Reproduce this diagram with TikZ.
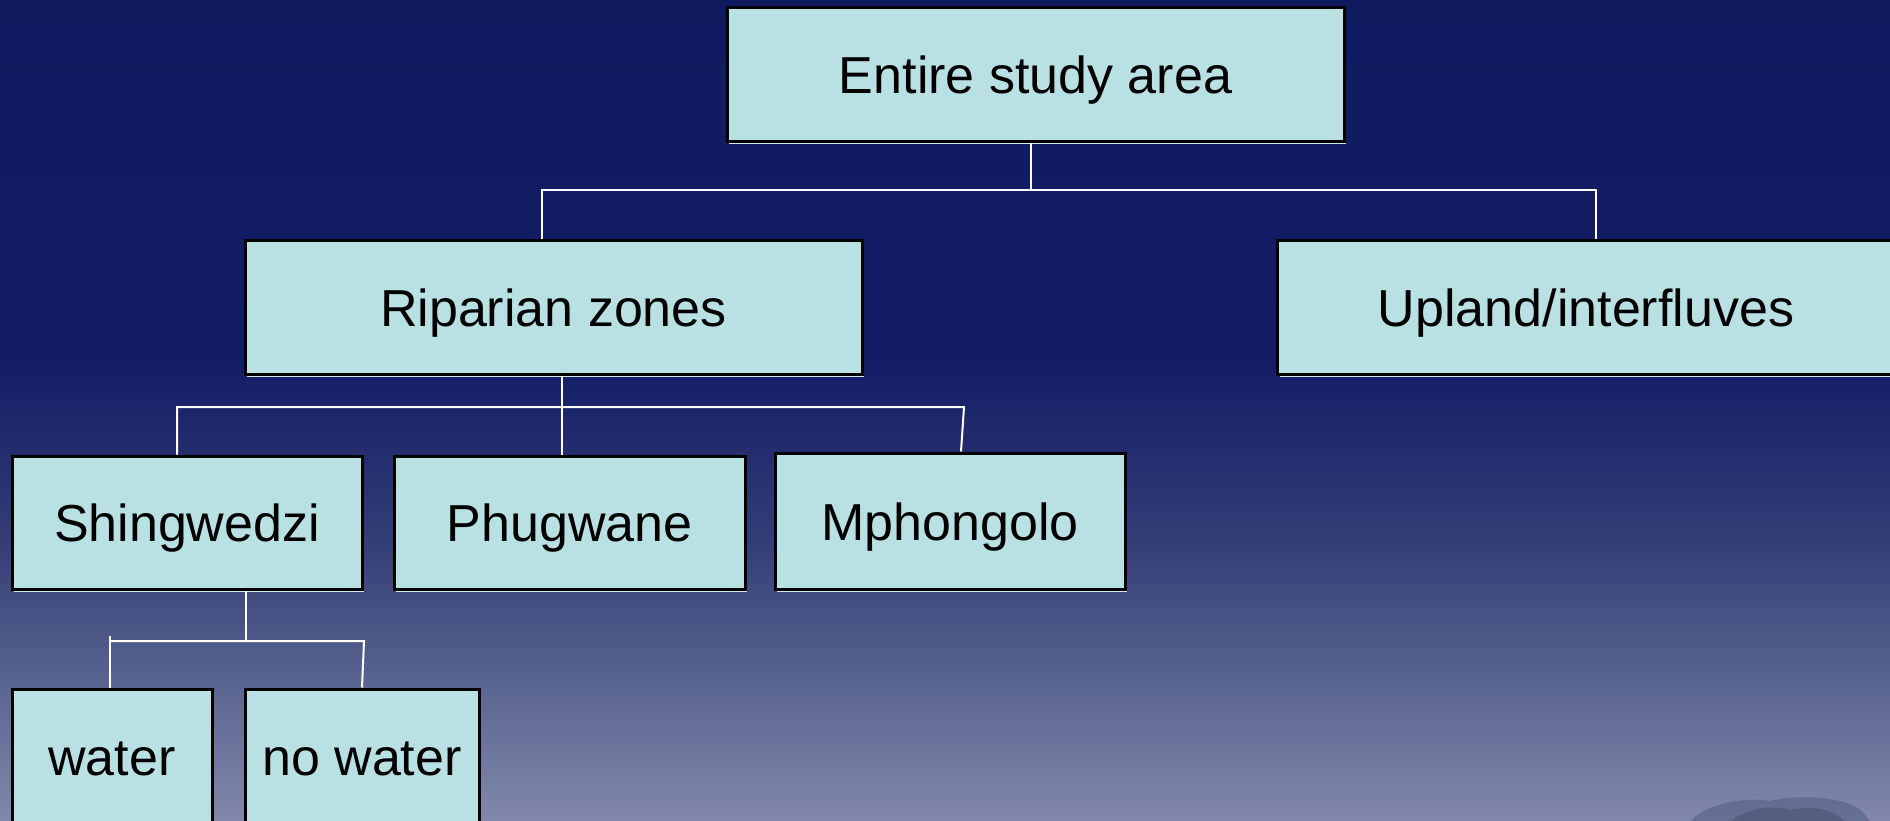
\documentclass[tikz,border=0pt]{standalone}
\usepackage{fontspec}
\setmainfont{Liberation Sans}
\usetikzlibrary{shadows}
\definecolor{bg0}{HTML}{101A5F}
\definecolor{bg1}{HTML}{131D66}
\definecolor{bg2}{HTML}{333D76}
\definecolor{bg3}{HTML}{5F6994}
\definecolor{bg4}{HTML}{8288AB}
\definecolor{boxc}{HTML}{B9E0E3}
\definecolor{edgec}{HTML}{CFE6EA}
\definecolor{treec}{HTML}{445478}
\tikzset{
  box/.style={draw=black, line width=1.5pt, fill=boxc, inner sep=0pt,
    text height=25pt, text depth=6pt,
    font=\fontsize{26}{31}\selectfont, text=black,
    drop shadow={shadow xshift=1.1pt, shadow yshift=-1.4pt, fill=edgec, opacity=1}},
  conn/.style={draw=white, line width=1pt}
}
\begin{document}
\begin{tikzpicture}[x=0.5pt, y=-0.5pt]
\useasboundingbox (0,0) rectangle (1890,820);
\clip (0,0) rectangle (1890,820);
% background
\shade[top color=bg0, bottom color=bg1] (0,-1) rectangle (1890,361);
\shade[top color=bg1, bottom color=bg2] (0,360) rectangle (1890,541);
\shade[top color=bg2, bottom color=bg3] (0,540) rectangle (1890,701);
\shade[top color=bg3, bottom color=bg4] (0,700) rectangle (1890,821);
% faint tree silhouette
\fill[treec, opacity=0.45] (1690,822) .. controls (1702,806) and (1740,796) .. (1770,801)
  .. controls (1800,794) and (1840,797) .. (1858,808) .. controls (1865,814) and (1868,818) .. (1870,822) -- cycle;
\fill[treec!70!black, opacity=0.3] (1730,822) .. controls (1745,809) and (1770,804) .. (1790,810)
  .. controls (1810,805) and (1835,809) .. (1845,822) -- cycle;

% nodes
\node[box, minimum width=308.5pt, minimum height=67pt] (entire) at (1035.5,74) {Entire study area};
\node[box, minimum width=308.5pt, minimum height=67pt] (rip) at (553.5,307) {Riparian zones};
\node[box, minimum width=308.5pt, minimum height=67pt] (up) at (1586,307) {Upland/interfluves};
\node[box, minimum width=175pt, minimum height=66.5pt] (shing) at (187,522.5) {Shingwedzi};
\node[box, minimum width=175.5pt, minimum height=66.5pt] (phug) at (569.5,522.5) {Phugwane};
\node[box, minimum width=175pt, minimum height=68pt] (mph) at (950,521) {Mphongolo};
\node[box, minimum width=100pt, minimum height=67pt] (water) at (112,756) {water};
\node[box, minimum width=117pt, minimum height=67pt] (nowater) at (362,756) {no water};

% junction coordinates
\coordinate (j0) at (1031,190);
\coordinate (jL) at (542,190);
\coordinate (jR) at (1596,190);
\coordinate (k0) at (562,407);
\coordinate (kL) at (177,407);
\coordinate (kR) at (964,407);
\coordinate (s0) at (246,641);
\coordinate (sL) at (110,641);
\coordinate (sLt) at (110,636);
\coordinate (sR) at (364,641);

% connectors
\draw[conn] (j0 |- entire.south) -- (j0);
\draw[conn] (rip.north -| jL) -- (jL) -- (jR) -- (up.north -| jR);
\draw[conn] (k0 |- rip.south) -- (k0);
\draw[conn] (shing.north -| kL) -- (kL) -- (kR) -- ([xshift=5.5pt]mph.north);
\draw[conn] (phug.north -| k0) -- (k0);
\draw[conn] (s0 |- shing.south) -- (s0);
\draw[conn] (water.north -| sL) -- (sLt);
\draw[conn] (sL) -- (sR) -- (nowater.north);
\end{tikzpicture}
\end{document}
